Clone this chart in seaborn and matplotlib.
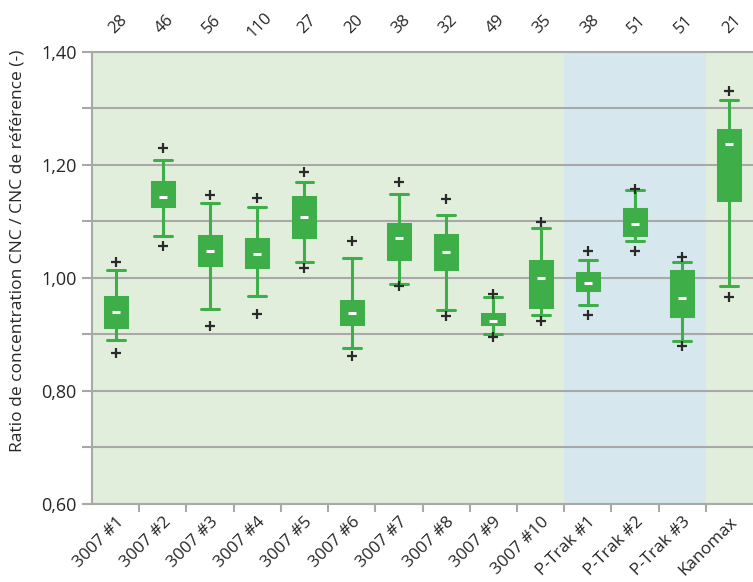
import numpy as np
import pandas as pd
import seaborn as sns
import matplotlib.pyplot as plt
from matplotlib.ticker import FixedLocator, FuncFormatter

categories = ["3007 #1", "3007 #2", "3007 #3", "3007 #4", "3007 #5", "3007 #6",
              "3007 #7", "3007 #8", "3007 #9", "3007 #10", "P-Trak #1",
              "P-Trak #2", "P-Trak #3", "Kanomax"]
counts = [28, 46, 56, 110, 27, 20, 38, 32, 49, 35, 38, 51, 51, 21]
whisker_low = [0.890, 1.075, 0.945, 0.968, 1.028, 0.876, 0.989, 0.943, 0.900,
               0.934, 0.952, 1.065, 0.888, 0.985]
q1 = [0.914, 1.128, 1.022, 1.020, 1.073, 0.919, 1.034, 1.015, 0.918, 0.948,
      0.979, 1.076, 0.932, 1.138]
median = [0.940, 1.1435, 1.048, 1.042, 1.108, 0.938, 1.071, 1.046, 0.924, 0.999,
          0.991, 1.096, 0.965, 1.237]
q3 = [0.966, 1.169, 1.074, 1.069, 1.143, 0.959, 1.095, 1.076, 0.936, 1.030,
      1.009, 1.122, 1.012, 1.261]
whisker_high = [1.0135, 1.209, 1.132, 1.125, 1.169, 1.035, 1.149, 1.112, 0.967,
                1.089, 1.031, 1.155, 1.029, 1.314]
extreme_low = [0.868, 1.057, 0.915, 0.937, 1.017, 0.861, 0.985, 0.932, 0.895,
               0.924, 0.934, 1.048, 0.879, 0.966]
extreme_high = [1.029, 1.229, 1.146, 1.141, 1.188, 1.065, 1.169, 1.140, 0.971,
                1.099, 1.047, 1.158, 1.037, 1.330]
blue_group = ["P-Trak #1", "P-Trak #2", "P-Trak #3"]
yticks_major = [0.60, 0.80, 1.00, 1.20, 1.40]
yticks_minor = [0.70, 0.90, 1.10, 1.30]
ylabel = "Ratio de concentration CNC / CNC de référence (-)"

GREEN = "#3eae48"
BG_GREEN = "#e2eedc"
BG_BLUE = "#d6e8ee"
GRID = "#a8a8a8"
TEXT = "#262626"

sns.set_theme(style="white")
plt.rcParams["font.family"] = ["Open Sans", "DejaVu Sans"]

# five-number data per instrument (min/max whiskers)
rows = []
for c, a, b, m, d, e in zip(categories, whisker_low, q1, median, q3, whisker_high):
    for v in (a, b, m, d, e):
        rows.append((c, v))
df_box = pd.DataFrame(rows, columns=["instrument", "ratio"])

df_ext = pd.DataFrame({
    "instrument": categories * 2,
    "ratio": extreme_low + extreme_high,
})
df_med = pd.DataFrame({"instrument": categories, "ratio": median})

fig = plt.figure(figsize=(7.53, 5.82), dpi=100)
fig.patch.set_facecolor("white")
ax = fig.add_axes([0.1222, 0.134, 0.8778, 0.777])

n = len(categories)
for i, c in enumerate(categories):
    ax.axvspan(i - 0.5, i + 0.5, color=BG_BLUE if c in blue_group else BG_GREEN,
               lw=0, zorder=0)

sns.boxplot(data=df_box, x="instrument", y="ratio", order=categories,
            whis=(0, 100), width=0.465, color=GREEN, linecolor=GREEN,
            linewidth=2.2, fill=True, showfliers=False, saturation=1,
            medianprops={"visible": False}, capwidths=0.38, ax=ax, zorder=3)

sns.stripplot(data=df_ext, x="instrument", y="ratio", order=categories,
              jitter=False, marker="+", size=7, linewidth=1.6, color="#2a2a2a",
              ax=ax, zorder=5)
sns.stripplot(data=df_med, x="instrument", y="ratio", order=categories,
              jitter=False, marker="_", size=6, linewidth=2.2, color="white",
              ax=ax, zorder=6)

ax.set_xlim(-0.5, n - 0.5)
ax.set_ylim(0.60, 1.40)

ax.yaxis.set_major_locator(FixedLocator(yticks_major))
ax.yaxis.set_minor_locator(FixedLocator(yticks_minor))
ax.yaxis.set_major_formatter(FuncFormatter(lambda v, p: f"{v:.2f}".replace(".", ",")))
ax.grid(True, axis="y", which="both", color=GRID, lw=1.5, zorder=1)
ax.set_axisbelow(True)
ax.tick_params(axis="y", which="both", left=True, length=7.5, width=1.5,
               color=GRID, labelsize=13, labelcolor=TEXT, pad=3.5)

ax.xaxis.set_major_locator(FixedLocator(list(range(n))))
ax.xaxis.set_minor_locator(FixedLocator([i + 0.5 for i in range(n - 1)]))
ax.set_xticklabels(categories, rotation=45, ha="right", rotation_mode="anchor")
ax.tick_params(axis="x", which="major", length=0, labelsize=12.3,
               labelcolor=TEXT, pad=7)
ax.tick_params(axis="x", which="minor", bottom=True, length=6, width=1.5,
               color=GRID)

for side in ["left", "bottom", "top"]:
    ax.spines[side].set_color(GRID)
    ax.spines[side].set_linewidth(1.5)
ax.spines["right"].set_visible(False)

ax.set_xlabel("")
ax.set_ylabel(ylabel, fontsize=12.5, color=TEXT)
ax.yaxis.set_label_coords(-0.1, 0.56)

for i, cnt in enumerate(counts):
    ax.annotate(str(cnt), xy=(i, 1.0), xycoords=("data", "axes fraction"),
                xytext=(1.5, 19.5), textcoords="offset points", rotation=45,
                ha="center", va="center", fontsize=12, color=TEXT)

fig.savefig("out.png", dpi=100, facecolor="white")
